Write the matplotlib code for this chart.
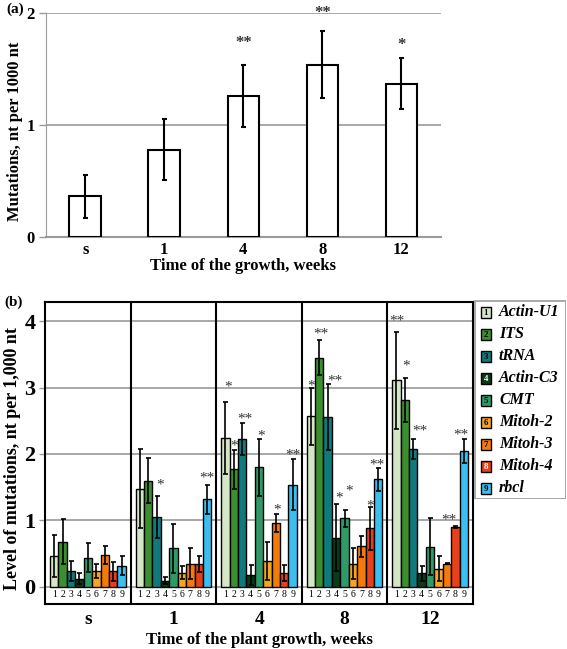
import matplotlib
matplotlib.use('Agg')
import matplotlib.pyplot as plt
import numpy as np
from matplotlib.patches import Rectangle

plt.rcParams['font.family'] = ['Liberation Serif', 'DejaVu Serif']
plt.rcParams['font.weight'] = 'bold'

# ---------------- data: panel (a) ----------------
weeks = ['s', '1', '4', '8', '12']
total_mut = [0.36, 0.78, 1.26, 1.54, 1.37]
total_err = [0.19, 0.27, 0.28, 0.30, 0.23]
total_sig = ['', '', '**', '**', '*']
total_sig_y = [0.0, 0.0, 1.80, 2.07, 1.79]

# ---------------- data: panel (b) ----------------
genes = ['Actin-U1', 'ITS', 'tRNA', 'Actin-C3', 'CMT', 'Mitoh-2', 'Mitoh-3', 'Mitoh-4', 'rbcl']
gene_nums = ['1', '2', '3', '4', '5', '6', '7', '8', '9']
gene_colors = ['#d3e6c6', '#3b8f2f', '#10797b', '#0b3a17', '#2f9a68',
               '#f6a51e', '#f47a0c', '#e8401a', '#3bbff0']

mut_s = [0.46, 0.68, 0.24, 0.12, 0.44, 0.24, 0.48, 0.23, 0.32]
mut_1 = [1.48, 1.60, 1.05, 0.09, 0.58, 0.21, 0.35, 0.34, 1.32]
mut_4 = [2.24, 1.77, 2.22, 0.18, 1.80, 0.39, 0.96, 0.21, 1.54]
mut_8 = [2.57, 3.45, 2.56, 0.74, 1.03, 0.35, 0.61, 0.88, 1.62]
mut_12 = [3.11, 2.81, 2.08, 0.20, 0.60, 0.27, 0.35, 0.90, 2.05]

err_s = [0.32, 0.34, 0.15, 0.08, 0.22, 0.11, 0.13, 0.15, 0.14]
err_1 = [0.60, 0.34, 0.31, 0.05, 0.37, 0.10, 0.24, 0.12, 0.22]
err_4 = [0.54, 0.29, 0.24, 0.15, 0.43, 0.29, 0.13, 0.12, 0.38]
err_8 = [0.43, 0.26, 0.50, 0.50, 0.13, 0.24, 0.16, 0.32, 0.17]
err_12 = [0.73, 0.33, 0.15, 0.11, 0.43, 0.19, 0.01, 0.01, 0.18]

sig_group = [1, 1, 2, 2, 2, 2, 2, 2, 3, 3, 3, 3, 3, 3, 3, 4, 4, 4, 4, 4]
sig_bar = [3, 9, 1, 2, 3, 5, 7, 9, 1, 2, 3, 4, 5, 8, 9, 1, 2, 3, 8, 9]
sig_text = ['*', '**', '*', '*', '**', '*', '*', '**', '*', '**', '**', '*', '*', '*', '**',
            '**', '*', '**', '**', '**']
sig_y = [1.62, 1.73, 3.10, 2.21, 2.61, 2.36, 1.25, 2.08, 3.12, 3.89, 3.19, 1.42, 1.53, 1.30, 1.92,
         4.10, 3.41, 2.43, 1.09, 2.38]
sig_dx = [0.4, 0.0, 0.3, 0.0, 0.3, 0.3, 0.15, 0.0, 0.0, 0.2, 0.9, 0.4, 0.5, 0.0, -0.2,
          0.0, 0.1, 0.8, -0.8, -0.4]

mut_b = [mut_s, mut_1, mut_4, mut_8, mut_12]
err_b = [err_s, err_1, err_4, err_8, err_12]

W, H = 567, 649
fig = plt.figure(figsize=(W / 100, H / 100), dpi=100)
fig.patch.set_facecolor('white')

grid_col = '#9a9a9a'

# ---------------- panel (a) ----------------
axa = fig.add_axes([45.7 / W, (H - 236.7) / H, 395.3 / W, 223.4 / H])
xa = np.arange(len(weeks))
axa.bar(xa, total_mut, width=0.4, color='white', edgecolor='black', linewidth=1.5, zorder=3)
axa.errorbar(xa, total_mut, yerr=total_err, fmt='none', ecolor='black', elinewidth=1.5,
             capsize=1.8, capthick=1.5, zorder=4)
for x, s, y in zip(xa, total_sig, total_sig_y):
    if s:
        axa.text(x, y - 0.07, s, ha='center', va='center', fontsize=12, color='#333333',
                 clip_on=False)
axa.set_xlim(-0.5, 4.5)
axa.set_ylim(0, 2)
axa.set_yticks([0, 1, 2])
axa.set_yticklabels(['0', '1', '2'], fontsize=12, fontweight='bold')
axa.set_xticks(xa)
axa.set_xticklabels(weeks, fontsize=12, fontweight='bold')
axa.tick_params(axis='x', length=0, pad=4)
axa.tick_params(axis='y', length=5, color=grid_col, width=1, pad=3)
axa.yaxis.grid(True, color=grid_col, linewidth=1.2)
axa.set_axisbelow(True)
for sp in ['top', 'right']:
    axa.spines[sp].set_visible(False)
axa.spines['left'].set_color(grid_col)
axa.spines['bottom'].set_color(grid_col)
axa.spines['bottom'].set_linewidth(1.5)
fig.text(15 / W, 1 - 131 / H, 'Mutations, nt per 1000 nt', rotation=90, ha='center', va='center',
         fontsize=12, fontweight='bold')
fig.text(243 / W, 1 - 266 / H, 'Time of the growth, weeks', ha='center', va='center',
         fontsize=12, fontweight='bold')
fig.text(15 / W, 1 - 9 / H, '(a)', ha='center', va='center', fontsize=11, fontweight='bold')

# ---------------- panel (b) ----------------
axb = fig.add_axes([45.3 / W, (H - 604) / H, 427.7 / W, 302 / H])
bw = 0.0985
off = 0.055
for g in range(len(weeks)):
    xs = g + off + bw * (np.arange(len(genes)) + 0.5)
    axb.bar(xs, mut_b[g], width=bw, color=gene_colors, edgecolor='black', linewidth=1.0, zorder=3)
    axb.errorbar(xs, mut_b[g], yerr=err_b[g], fmt='none', ecolor='black', elinewidth=1.2,
                 capsize=1.8, capthick=1.2, zorder=4)
    for x, n in zip(xs, gene_nums):
        axb.text(x, -0.115, n, ha='center', va='center', fontsize=7, fontweight='normal')
    if g > 0:
        axb.axvline(g, color='black', linewidth=1.5, zorder=5)
for gi, bi, t, y, dx in zip(sig_group, sig_bar, sig_text, sig_y, sig_dx):
    x = gi + off + bw * (bi - 0.5 + dx)
    axb.text(x, y - 0.09, t, ha='center', va='center', fontsize=11, color='#333333',
             fontweight='normal', clip_on=False, zorder=6)
axb.set_xlim(0, 5)
axb.set_ylim(-0.26, 4.29)
axb.set_yticks([0, 1, 2, 3, 4])
axb.set_yticklabels(['0', '1', '2', '3', '4'], fontsize=16, fontweight='bold')
axb.tick_params(axis='y', length=4, color=grid_col, width=1, pad=3)
axb.set_xticks(np.arange(len(weeks)) + 0.5)
axb.set_xticklabels(weeks, fontsize=14, fontweight='bold')
axb.tick_params(axis='x', length=0, pad=5)
axb.yaxis.grid(True, color=grid_col, linewidth=1.2)
axb.set_axisbelow(True)
for sp in axb.spines.values():
    sp.set_color('black')
    sp.set_linewidth(1.5)
fig.text(13 / W, 1 - 459 / H, 'Level of mutations, nt per 1,000 nt', rotation=90, ha='center',
         va='center', fontsize=13, fontweight='bold')
fig.text(259 / W, 1 - 640 / H, 'Time of the plant growth, weeks', ha='center', va='center',
         fontsize=12, fontweight='bold')
fig.text(14 / W, 1 - 302 / H, '(b)', ha='center', va='center', fontsize=11, fontweight='bold')

# ---------------- legend ----------------
lx, ly, lw, lh = 474, 300, 92, 199
axl = fig.add_axes([lx / W, (H - ly - lh) / H, lw / W, lh / H])
axl.set_xlim(0, lw)
axl.set_ylim(lh, 0)
axl.axis('off')
axl.add_patch(Rectangle((0.5, 0.5), lw - 1, lh - 1, facecolor='white', edgecolor='#999999',
                        linewidth=1.2))
for i, (name, num, col) in enumerate(zip(genes, gene_nums, gene_colors)):
    yc = 12.3 + 22 * i
    axl.add_patch(Rectangle((6.5, yc - 5.3), 10.6, 10.6, facecolor=col, edgecolor='black',
                            linewidth=1.0))
    axl.text(11.8, yc + 0.3, num, ha='center', va='center', fontsize=6.5,
             color='white' if i in (3, 7) else 'black', fontweight='bold')
    axl.text(25, yc, name, ha='left', va='center', fontsize=11.5, fontweight='bold',
             fontstyle='italic')

fig.savefig('out.png', dpi=100, facecolor='white')
